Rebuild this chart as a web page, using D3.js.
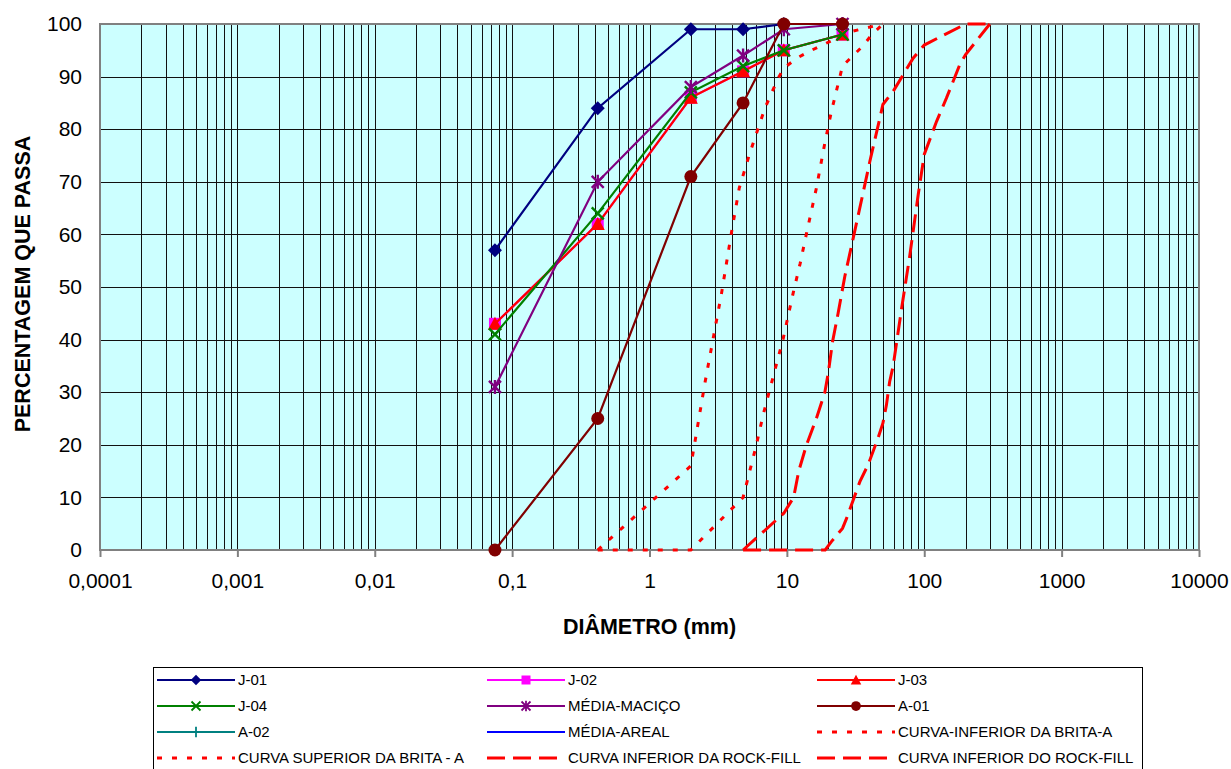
<!DOCTYPE html>
<html>
<head>
<meta charset="utf-8">
<script src="https://cdn.jsdelivr.net/npm/d3@7"></script>
<style>
    body { margin: 0; background: #fff; }
    svg { display: block; font-family: "Liberation Sans", Arial, sans-serif; }
</style>
</head>
<body>
<svg id="chart"></svg>
<script>
// Peneiras (mm) dos ensaios
const sieves = [0.075, 0.42, 2.0, 4.8, 9.5, 25.4];

// Percentagem que passa, por amostra
const j01 = [57, 84, 99, 99, 100, 100];
const j02 = [43, 62, 86, 91, 95, 98];
const j03 = [43, 62, 86, 91, 95, 98];
const j04 = [41, 64, 87, 92, 95, 98];
const mediaMacico = [31, 70, 88, 94, 99, 100];
const a01 = [0, 25, 71, 85, 100, 100];
const a02 = [];
const mediaAreal = [];

// Curvas limite (diametro, percentagem)
const supBritaD = [0.42, 2.0, 2.53, 3.35, 3.96, 4.5, 5.38, 6.92, 8.64, 9.5, 11.8, 15.1, 28.7, 50];
const supBritaP = [0, 16, 31.7, 48.9, 60.5, 68.8, 75.5, 84, 89.7, 91.6, 93.5, 95, 98.5, 100];
const infBritaD = [0.42, 2.0, 4.8, 6.0, 6.72, 8.18, 9.4, 11.1, 12.5, 13.9, 16.4, 18.9, 21.1, 25.4, 35.7, 41.6, 50];
const infBritaP = [0, 0, 10, 20, 25.7, 34.2, 40.2, 48.8, 54.5, 60.2, 68.8, 77.4, 83.4, 92, 95.8, 98, 100];
const rockDaD = [4.8, 9.5, 11.2, 12.2, 13.9, 16.4, 18.9, 20.0, 21.5, 23.6, 26.4, 30.4, 35.6, 40.2, 47.5, 50, 59.4, 83, 100, 200, 300];
const rockDaP = [0, 7, 10, 15, 20, 25, 30, 33.6, 39.6, 45, 52, 59.3, 67.5, 73.9, 82.1, 84.7, 87.2, 93.5, 96, 100, 100];
const rockDoD = [4.8, 19, 21.1, 25.4, 27.2, 34, 39, 46, 50, 53, 56, 59.4, 68.4, 78.5, 90.3, 100, 123, 145, 181.5, 200, 300];
const rockDoP = [0, 0, 1.6, 4.1, 6, 13, 16.2, 21.2, 24.1, 27.5, 32, 35, 45.9, 56, 67.5, 75.2, 81.5, 85.9, 92.3, 94.2, 100];

const xTicks = [0.0001, 0.001, 0.01, 0.1, 1, 10, 100, 1000, 10000];
const yTicks = [0, 10, 20, 30, 40, 50, 60, 70, 80, 90, 100];

const shapes = {
    diamond: 'M0,-7L7,0L0,7L-7,0Z',
    square: 'M-6,-6h12v12h-12Z',
    triangle: 'M0,-7L7,6L-7,6Z',
    cross: 'M-6,-6L6,6M6,-6L-6,6',
    star: 'M-6,-6L6,6M6,-6L-6,6M0,-7V7',
    plus: 'M-7,0H7M0,-7V7',
    dash: 'M-4,0H4'
};

const series = [
    { name: 'J-01', values: j01, color: '#000080', marker: 'diamond' },
    { name: 'J-02', values: j02, color: '#FF00FF', marker: 'square' },
    { name: 'J-03', values: j03, color: '#FF0000', marker: 'triangle' },
    { name: 'J-04', values: j04, color: '#008000', marker: 'cross' },
    { name: 'MÉDIA-MACIÇO', values: mediaMacico, color: '#800080', marker: 'star' },
    { name: 'A-01', values: a01, color: '#800000', marker: 'circle' },
    { name: 'A-02', values: a02, color: '#008080', marker: 'plus' },
    { name: 'MÉDIA-AREAL', values: mediaAreal, color: '#0000FF', marker: 'dash' }
];

const curves = [
    { name: 'CURVA-INFERIOR DA BRITA-A', d: infBritaD, p: infBritaP, dash: '5,10' },
    { name: 'CURVA SUPERIOR DA BRITA - A', d: supBritaD, p: supBritaP, dash: '5,10' },
    { name: 'CURVA INFERIOR DA ROCK-FILL', d: rockDaD, p: rockDaP, dash: '18,8' },
    { name: 'CURVA INFERIOR DO ROCK-FILL', d: rockDoD, p: rockDoP, dash: '18,8' }
];

const W = 1231, H = 769;
const plot = { left: 100, right: 1199, top: 24, bottom: 550 };

const svg = d3.select('#chart').attr('width', W).attr('height', H);

const x = d3.scaleLog().domain([1e-4, 1e4]).range([plot.left, plot.right]);
const y = d3.scaleLinear().domain([0, 100]).range([plot.bottom, plot.top]);

// fundo
svg.append('rect')
    .attr('x', plot.left).attr('y', plot.top)
    .attr('width', plot.right - plot.left).attr('height', plot.bottom - plot.top)
    .attr('fill', '#CCFFFF');

// grelha vertical (1..9 por decada)
svg.append('g')
    .attr('transform', 'translate(0,' + plot.bottom + ')')
    .call(d3.axisBottom(x).tickValues(x.ticks()).tickSize(-(plot.bottom - plot.top)).tickFormat(''))
    .call(g => g.select('.domain').remove())
    .call(g => g.selectAll('line').attr('stroke', '#111').attr('shape-rendering', 'crispEdges'));

// grelha horizontal
svg.append('g')
    .attr('transform', 'translate(' + plot.left + ',0)')
    .call(d3.axisLeft(y).tickValues(yTicks).tickSize(-(plot.right - plot.left)).tickFormat(''))
    .call(g => g.select('.domain').remove())
    .call(g => g.selectAll('line').attr('stroke', '#111').attr('shape-rendering', 'crispEdges'));

// borda
svg.append('rect')
    .attr('x', plot.left).attr('y', plot.top)
    .attr('width', plot.right - plot.left).attr('height', plot.bottom - plot.top)
    .attr('fill', 'none').attr('stroke', '#808080').attr('stroke-width', 2);

// eixo x
svg.append('g')
    .attr('transform', 'translate(0,' + plot.bottom + ')')
    .call(d3.axisBottom(x).tickValues(xTicks).tickSize(7).tickPadding(16)
        .tickFormat(d => String(d).replace('.', ',')))
    .call(g => g.select('.domain').remove())
    .call(g => g.selectAll('line').attr('stroke', '#808080').attr('stroke-width', 2))
    .call(g => g.selectAll('text').attr('font-size', 21).attr('fill', '#000')
        .attr('font-family', '"Liberation Sans", Arial, sans-serif'));

// eixo y
svg.append('g')
    .attr('transform', 'translate(' + plot.left + ',0)')
    .call(d3.axisLeft(y).tickValues(yTicks).tickSize(0).tickPadding(18))
    .call(g => g.select('.domain').remove())
    .call(g => g.selectAll('text').attr('font-size', 21).attr('fill', '#000')
        .attr('font-family', '"Liberation Sans", Arial, sans-serif'));

// titulos
svg.append('text')
    .attr('x', (plot.left + plot.right) / 2).attr('y', 634)
    .attr('text-anchor', 'middle')
    .attr('font-size', 21.5).attr('font-weight', 'bold')
    .text('DIÂMETRO (mm)');

svg.append('text')
    .attr('transform', 'translate(30,284) rotate(-90)')
    .attr('text-anchor', 'middle')
    .attr('font-size', 21.5).attr('font-weight', 'bold')
    .text('PERCENTAGEM QUE PASSA');

function drawMarker(sel, s) {
    if (s.marker === 'circle') {
        sel.append('circle').attr('r', 6.5).attr('fill', s.color);
    } else {
        const open = ['cross', 'star', 'plus', 'dash'].includes(s.marker);
        sel.append('path')
            .attr('d', shapes[s.marker])
            .attr('fill', open ? 'none' : s.color)
            .attr('stroke', open ? s.color : 'none')
            .attr('stroke-width', 2.4);
    }
}

// curvas limite
const curveLine = d3.line().x(d => x(d[0])).y(d => y(d[1]));
curves.forEach(c => {
    svg.append('path')
        .datum(c.d.map((d, i) => [d, c.p[i]]))
        .attr('d', curveLine)
        .attr('fill', 'none')
        .attr('stroke', '#FF0000')
        .attr('stroke-width', 3)
        .attr('stroke-dasharray', c.dash);
});

// amostras
const line = d3.line().x((d, i) => x(sieves[i])).y(d => y(d));
series.forEach(s => {
    if (!s.values.length) return;
    svg.append('path')
        .datum(s.values)
        .attr('d', line)
        .attr('fill', 'none')
        .attr('stroke', s.color)
        .attr('stroke-width', 2.2);
    svg.append('g')
        .selectAll('g')
        .data(s.values)
        .enter().append('g')
            .attr('transform', (d, i) => 'translate(' + x(sieves[i]) + ',' + y(d) + ')')
            .each(function () { drawMarker(d3.select(this), s); });
});

// legenda
const legend = svg.append('g');
legend.append('rect')
    .attr('x', 153.5).attr('y', 667.5).attr('width', 989).attr('height', 130)
    .attr('fill', '#fff').attr('stroke', '#000').attr('stroke-width', 1);

const items = series.map(s => ({ name: s.name, color: s.color, series: s }))
    .concat(curves.map(c => ({ name: c.name, color: '#FF0000', dash: c.dash })));

items.forEach((it, i) => {
    const col = i % 3, row = Math.floor(i / 3);
    const lx = 157 + col * 330, ly = 680 + row * 26;
    const g = legend.append('g').attr('transform', 'translate(' + lx + ',' + ly + ')');
    g.append('line')
        .attr('x1', 0).attr('x2', 78)
        .attr('stroke', it.color)
        .attr('stroke-width', it.dash ? 3 : 2.2)
        .attr('stroke-dasharray', it.dash || null);
    if (it.series) {
        const m = g.append('g').attr('transform', 'translate(39,0) scale(0.75)');
        drawMarker(m, it.series);
    }
    g.append('text')
        .attr('x', 81).attr('y', 5)
        .attr('font-size', 15)
        .text(it.name);
});
</script>
</body>
</html>
